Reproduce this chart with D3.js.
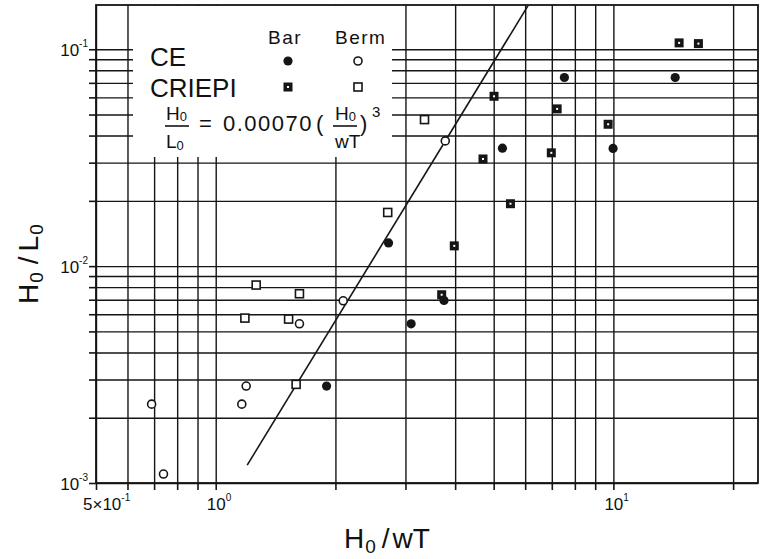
<!DOCTYPE html>
<html>
<head>
<meta charset="utf-8">
<script src="https://cdn.jsdelivr.net/npm/d3@7"></script>
<style>
  body { margin: 0; background: #fff; }
  text { font-family: "Liberation Sans", Arial, sans-serif; fill: #111; }
</style>
</head>
<body>
<div id="chart"></div>
<script>
// CE, bar profiles (filled circles)
const ceBarX = [1.90, 2.72, 3.10, 3.75, 5.26, 7.53, 9.98, 14.3];
const ceBarY = [0.0028, 0.0128, 0.00542, 0.00695, 0.035, 0.0741, 0.0349, 0.0741];
// CE, berm profiles (open circles)
const ceBermX = [0.69, 0.739, 1.163, 1.193, 1.624, 2.092, 3.778];
const ceBermY = [0.00231, 0.0011, 0.00231, 0.0028, 0.00542, 0.00692, 0.0378];
// CRIEPI, bar profiles (filled squares)
const crBarX = [3.70, 3.98, 4.70, 5.01, 5.51, 6.98, 7.22, 9.70, 14.63, 16.36];
const crBarY = [0.00738, 0.0124, 0.0312, 0.0607, 0.0194, 0.0333, 0.0531, 0.0451, 0.107, 0.1062];
// CRIEPI, berm profiles (open squares)
const crBermX = [1.264, 1.624, 1.184, 1.525, 1.593, 2.707, 3.35];
const crBermY = [0.00818, 0.00746, 0.00576, 0.0057, 0.00285, 0.01768, 0.0474];

// fitted line H0/L0 = 0.00070 (H0/wT)^3, drawn over this H0/wT range
const fitCoef = 0.0007;
const fitPow = 3;
const fitRange = [1.2, 6.1];

const xGrid = [0.5, 0.6, 0.7, 0.8, 0.9, 1, 2, 3, 4, 5, 6, 7, 8, 9, 10, 20];
const yGrid = [0.001, 0.002, 0.003, 0.004, 0.005, 0.006, 0.007, 0.008, 0.009,
               0.01, 0.02, 0.03, 0.04, 0.05, 0.06, 0.07, 0.08, 0.09, 0.1];
const xLabels = [{v: 0.5, base: "5×10", sup: "-1"}, {v: 1, base: "10", sup: "0"}, {v: 10, base: "10", sup: "1"}];
const yLabels = [{v: 0.1, sup: "-1"}, {v: 0.01, sup: "-2"}, {v: 0.001, sup: "-3"}];

const W = 762, H = 559;
const margin = {top: 5, right: 4, bottom: 76, left: 96};
const w = W - margin.left - margin.right;
const h = H - margin.top - margin.bottom;

const svg = d3.select("#chart").append("svg")
    .attr("width", W)
    .attr("height", H);

const g = svg.append("g").attr("transform", `translate(${margin.left},${margin.top})`);

const x = d3.scaleLog().domain([0.5, 23.1]).range([0, w]);
const y = d3.scaleLog().domain([0.001, 0.16]).range([h, 0]);

const ink = "#151515";

// grid
g.append("g")
    .attr("transform", `translate(0,${h})`)
    .call(d3.axisBottom(x).tickValues(xGrid).tickSize(-h).tickSizeOuter(0).tickFormat(""))
    .call(a => a.select(".domain").remove())
    .selectAll("line").attr("stroke", ink).attr("stroke-width", 1.4);

g.append("g")
    .call(d3.axisLeft(y).tickValues(yGrid).tickSize(-w).tickSizeOuter(0).tickFormat(""))
    .call(a => a.select(".domain").remove())
    .selectAll("line").attr("stroke", ink).attr("stroke-width", 1.4);

// outer ticks
g.append("g")
    .attr("transform", `translate(0,${h})`)
    .call(d3.axisBottom(x).tickValues(xGrid).tickSize(7).tickSizeOuter(0).tickFormat(""))
    .call(a => a.select(".domain").remove())
    .selectAll("line").attr("stroke", ink).attr("stroke-width", 1.6);

g.append("g")
    .call(d3.axisLeft(y).tickValues(yGrid).tickSize(7).tickSizeOuter(0).tickFormat(""))
    .call(a => a.select(".domain").remove())
    .selectAll("line").attr("stroke", ink).attr("stroke-width", 1.6);

// frame
g.append("rect")
    .attr("width", w).attr("height", h)
    .attr("fill", "none").attr("stroke", ink).attr("stroke-width", 1.8);

// legend box hides the grid
g.append("rect")
    .attr("x", 133 - margin.left).attr("y", 1)
    .attr("width", 392 - 133).attr("height", 157 - margin.top - 1)
    .attr("fill", "#fff");

// tick labels
const xl = svg.append("g").selectAll("text")
    .data(xLabels)
    .enter()
    .append("text")
    .attr("x", d => d.v === 0.5 ? 83 : margin.left + x(d.v) - 9)
    .attr("y", margin.top + h + 27)
    .attr("font-size", 17);
xl.append("tspan").text(d => d.base);
xl.append("tspan").attr("font-size", 10).attr("dy", -9).text(d => d.sup);

const yl = svg.append("g").selectAll("text")
    .data(yLabels)
    .enter()
    .append("text")
    .attr("x", 88)
    .attr("y", d => margin.top + y(d.v) + 7)
    .attr("text-anchor", "end")
    .attr("font-size", 17);
yl.append("tspan").text("10");
yl.append("tspan").attr("font-size", 10).attr("dy", -9).text(d => d.sup);

// axis titles
const xt = svg.append("text")
    .attr("x", 344).attr("y", 548)
    .attr("font-size", 28);
xt.append("tspan").text("H");
xt.append("tspan").attr("font-size", 19).attr("dy", 5).attr("dx", 1).text("0");
xt.append("tspan").attr("dy", -5).attr("dx", 6).text("/");
xt.append("tspan").attr("dx", 3).text("wT");

const yt = svg.append("text")
    .attr("transform", "translate(38,304) rotate(-90)")
    .attr("font-size", 28);
yt.append("tspan").text("H");
yt.append("tspan").attr("font-size", 19).attr("dy", 5).attr("dx", 1).text("0");
yt.append("tspan").attr("dy", -5).attr("dx", 8).text("/");
yt.append("tspan").attr("dx", 5).text("L");
yt.append("tspan").attr("font-size", 19).attr("dy", 5).attr("dx", 1).text("0");

// fitted line
const fitLine = fitRange.map(v => [v, fitCoef * Math.pow(v, fitPow)]);
g.append("path")
    .datum(fitLine)
    .attr("fill", "none")
    .attr("stroke", ink)
    .attr("stroke-width", 1.6)
    .attr("d", d3.line().x(d => x(d[0])).y(d => y(d[1])));

// markers
function filledCircle(sel) {
    sel.append("circle").attr("r", 4.6).attr("fill", ink);
}
function openCircle(sel) {
    sel.append("circle").attr("r", 4).attr("fill", "#fff").attr("stroke", ink).attr("stroke-width", 1.6);
}
function filledSquare(sel) {
    sel.append("rect").attr("x", -4.5).attr("y", -4.5).attr("width", 9).attr("height", 9).attr("fill", ink);
    sel.append("rect").attr("x", -1).attr("y", -1).attr("width", 2).attr("height", 2).attr("fill", "#fff");
}
function openSquare(sel) {
    sel.append("rect").attr("x", -4).attr("y", -4).attr("width", 8).attr("height", 8)
        .attr("fill", "#fff").attr("stroke", ink).attr("stroke-width", 1.6);
}

function plot(xs, ys, marker) {
    g.append("g").selectAll("g")
        .data(xs.map((v, i) => [v, ys[i]]))
        .enter()
        .append("g")
        .attr("transform", d => `translate(${x(d[0])},${y(d[1])})`)
        .call(marker);
}
plot(crBermX, crBermY, openSquare);
plot(ceBermX, ceBermY, openCircle);
plot(crBarX, crBarY, filledSquare);
plot(ceBarX, ceBarY, filledCircle);

// legend
const lg = svg.append("g");
lg.append("text").attr("x", 268).attr("y", 44).attr("font-size", 19).attr("letter-spacing", 1.5).text("Bar");
lg.append("text").attr("x", 335).attr("y", 44).attr("font-size", 19).attr("letter-spacing", 1.5).text("Berm");
lg.append("text").attr("x", 150).attr("y", 66).attr("font-size", 26).text("CE");
lg.append("text").attr("x", 150).attr("y", 97).attr("font-size", 26).text("CRIEPI");
lg.append("g").attr("transform", "translate(288,61)").call(filledCircle);
lg.append("g").attr("transform", "translate(358,61)").call(openCircle);
lg.append("g").attr("transform", "translate(288,87)").call(filledSquare);
lg.append("g").attr("transform", "translate(358,87)").call(openSquare);

// formula
function frac(px, num, den, sub) {
    const n = lg.append("text").attr("x", px).attr("y", 120).attr("font-size", 19);
    n.append("tspan").text(num);
    n.append("tspan").attr("font-size", 13).attr("dy", 1).text(sub);
    const d = lg.append("text").attr("x", px).attr("y", 148).attr("font-size", 19);
    d.append("tspan").text(den[0]);
    if (den[1]) d.append("tspan").attr("font-size", 13).attr("dy", 2).text(den[1]);
}
frac(166, "H", ["L", "0"], "0");
lg.append("line").attr("x1", 165).attr("x2", 189).attr("y1", 126).attr("y2", 126)
    .attr("stroke", ink).attr("stroke-width", 1.6);
lg.append("text").attr("x", 199).attr("y", 131).attr("font-size", 22).text("=");
lg.append("text").attr("x", 223).attr("y", 131).attr("font-size", 22).attr("letter-spacing", 1.5).text("0.00070");
lg.append("text").attr("x", 316).attr("y", 131).attr("font-size", 22).text("(");
frac(335, "H", ["wT"], "0");
lg.append("line").attr("x1", 333).attr("x2", 357).attr("y1", 126).attr("y2", 126)
    .attr("stroke", ink).attr("stroke-width", 1.6);
lg.append("text").attr("x", 360).attr("y", 131).attr("font-size", 22).text(")");
lg.append("text").attr("x", 372).attr("y", 117).attr("font-size", 15).text("3");
</script>
</body>
</html>
